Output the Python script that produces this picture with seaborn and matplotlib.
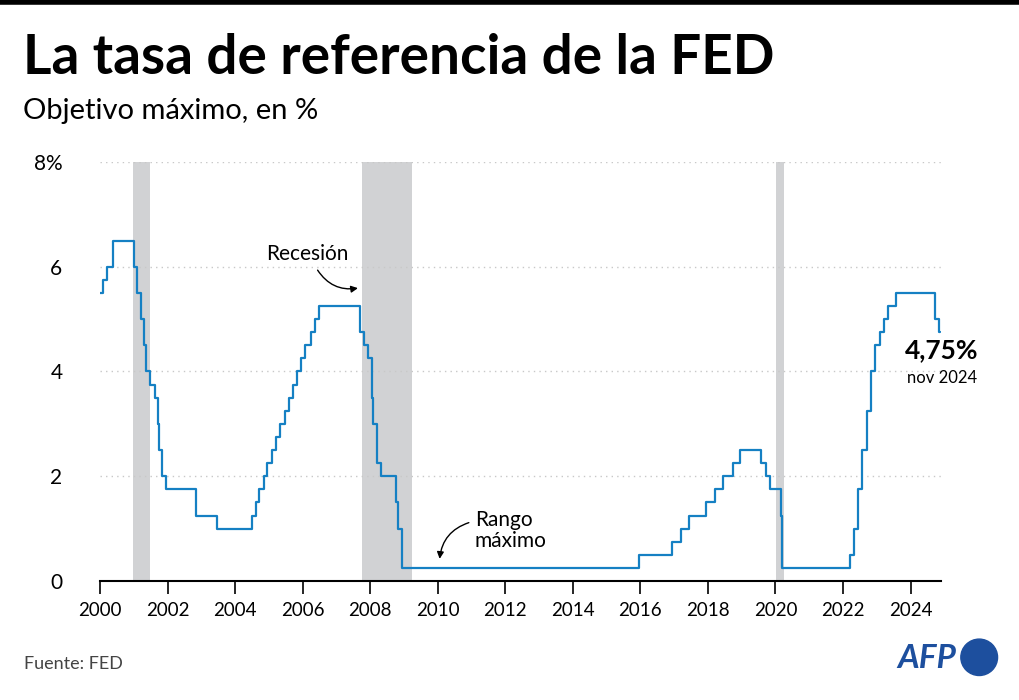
import numpy as np
import pandas as pd
import matplotlib
matplotlib.use("Agg")
import matplotlib.pyplot as plt
import seaborn as sns
from matplotlib.patches import Ellipse

# fecha de cambio y tasa objetivo maxima (%)
fechas = ["2000-01-01", "2000-02-02", "2000-03-21", "2000-05-16",
          "2001-01-03", "2001-01-31", "2001-03-20", "2001-04-18", "2001-05-15",
          "2001-06-27", "2001-08-21", "2001-09-17", "2001-10-02", "2001-11-06",
          "2001-12-11", "2002-11-06", "2003-06-25",
          "2004-06-30", "2004-08-10", "2004-09-21", "2004-11-10", "2004-12-14",
          "2005-02-02", "2005-03-22", "2005-05-03", "2005-06-30", "2005-08-09",
          "2005-09-20", "2005-11-01", "2005-12-13",
          "2006-01-31", "2006-03-28", "2006-05-10", "2006-06-29",
          "2007-09-18", "2007-10-31", "2007-12-11",
          "2008-01-22", "2008-01-30", "2008-03-18", "2008-04-30", "2008-10-08",
          "2008-10-29", "2008-12-16",
          "2015-12-16", "2016-12-14", "2017-03-15", "2017-06-14", "2017-12-13",
          "2018-03-21", "2018-06-13", "2018-09-26", "2018-12-19",
          "2019-07-31", "2019-09-18", "2019-10-30",
          "2020-03-03", "2020-03-15",
          "2022-03-16", "2022-05-04", "2022-06-15", "2022-07-27", "2022-09-21",
          "2022-11-02", "2022-12-14",
          "2023-02-01", "2023-03-22", "2023-05-03", "2023-07-26",
          "2024-09-18", "2024-11-07", "2024-11-20"]
tasas = [5.50, 5.75, 6.00, 6.50,
         6.00, 5.50, 5.00, 4.50, 4.00,
         3.75, 3.50, 3.00, 2.50, 2.00,
         1.75, 1.25, 1.00,
         1.25, 1.50, 1.75, 2.00, 2.25,
         2.50, 2.75, 3.00, 3.25, 3.50,
         3.75, 4.00, 4.25,
         4.50, 4.75, 5.00, 5.25,
         4.75, 4.50, 4.25,
         3.50, 3.00, 2.25, 2.00, 1.50,
         1.00, 0.25,
         0.50, 0.75, 1.00, 1.25, 1.50,
         1.75, 2.00, 2.25, 2.50,
         2.25, 2.00, 1.75,
         1.25, 0.25,
         0.50, 1.00, 1.75, 2.50, 3.25,
         4.00, 4.50,
         4.75, 5.00, 5.25, 5.50,
         5.00, 4.75, 4.75]

recesion_inicio = [2000.98, 2007.77, 2020.03]
recesion_fin = [2001.48, 2009.23, 2020.26]

y_ticks = [0, 2, 4, 6, 8]
y_labels = ["0", "2", "4", "6", "8%"]
x_ticks = list(range(2000, 2025, 2))


def a_anio(s):
    d = pd.to_datetime(s)
    return d.year + (d.dayofyear - 1) / (366 if d.is_leap_year else 365)


df = pd.DataFrame({"anio": [a_anio(f) for f in fechas], "tasa": tasas})

sns.set_theme(style="white")
plt.rcParams['font.family'] = ['Lato', 'DejaVu Sans']
plt.rcParams['text.color'] = 'black'
plt.rcParams['xtick.labelcolor'] = 'black'
plt.rcParams['ytick.labelcolor'] = 'black'

fig = plt.figure(figsize=(10.2, 7), dpi=100)
ax = fig.add_axes([0.098, 0.17, 0.8245, 0.5986])

for a, b in zip(recesion_inicio, recesion_fin):
    ax.axvspan(a, b, color="#d1d2d4", lw=0, zorder=0)

sns.lineplot(data=df, x="anio", y="tasa", drawstyle="steps-post",
             color="#1580c3", lw=1.6, ax=ax, zorder=3)

for y in y_ticks[1:]:
    ax.axhline(y, color="#c8c8c8", lw=1, ls=(0, (1, 3)), zorder=1)

ax.set_xlim(2000, 2024.9)
ax.set_ylim(0, 8)
ax.set_xticks(x_ticks)
ax.set_xticklabels([str(x) for x in x_ticks], fontsize=13.5)
ax.set_yticks(y_ticks)
ax.set_yticklabels(y_labels, fontsize=15)
ax.set_xlabel("")
ax.set_ylabel("")
for s in ["top", "right", "left"]:
    ax.spines[s].set_visible(False)
ax.spines["bottom"].set_color("black")
ax.spines["bottom"].set_linewidth(1.5)
ax.tick_params(axis="x", length=9, width=1.2, color="black", direction="out", pad=6, bottom=True)
ax.tick_params(axis="y", length=0, pad=27)
for t in ax.get_yticklabels():
    t.set_horizontalalignment("right")

# anotaciones
ax.text(2006.15, 6.25, "Recesión", fontsize=15, ha="center", va="center")
ax.annotate("", xy=(2007.72, 5.6), xytext=(2006.4, 5.98),
            arrowprops=dict(arrowstyle="-|>", color="black", lw=1,
                            connectionstyle="arc3,rad=0.35", mutation_scale=10))
ax.text(2011.1, 0.97, "Rango\nmáximo", fontsize=15, ha="left", va="center", linespacing=1.05)
ax.annotate("", xy=(2010.05, 0.37), xytext=(2011.0, 1.13),
            arrowprops=dict(arrowstyle="-|>", color="black", lw=1,
                            connectionstyle="arc3,rad=0.35", mutation_scale=10))
ax.text(2024.93, 4.4, "4,75%", fontsize=19, fontweight="bold", ha="center", va="center")
ax.text(2024.93, 3.87, "nov 2024", fontsize=12, ha="center", va="center")

# titulo y pie
fig.add_artist(plt.Line2D([0, 1], [0.997, 0.997], color="black", lw=4))
fig.text(0.023, 0.917, "La tasa de referencia de la FED", fontsize=39.5,
         fontweight="bold", ha="left", va="center")
fig.text(0.023, 0.841, "Objetivo máximo, en %", fontsize=21, ha="left", va="center")
fig.text(0.024, 0.052, "Fuente: FED", fontsize=13, color="#444444", ha="left", va="center")
fig.text(0.937, 0.06, "AFP", fontsize=24, fontweight="bold", style="italic",
         color="#1d4f9e", ha="right", va="center")
fig.add_artist(Ellipse((0.96, 0.061), 0.036, 0.052, color="#1d4f9e",
                       transform=fig.transFigure))

fig.savefig("out.png", dpi=100)
